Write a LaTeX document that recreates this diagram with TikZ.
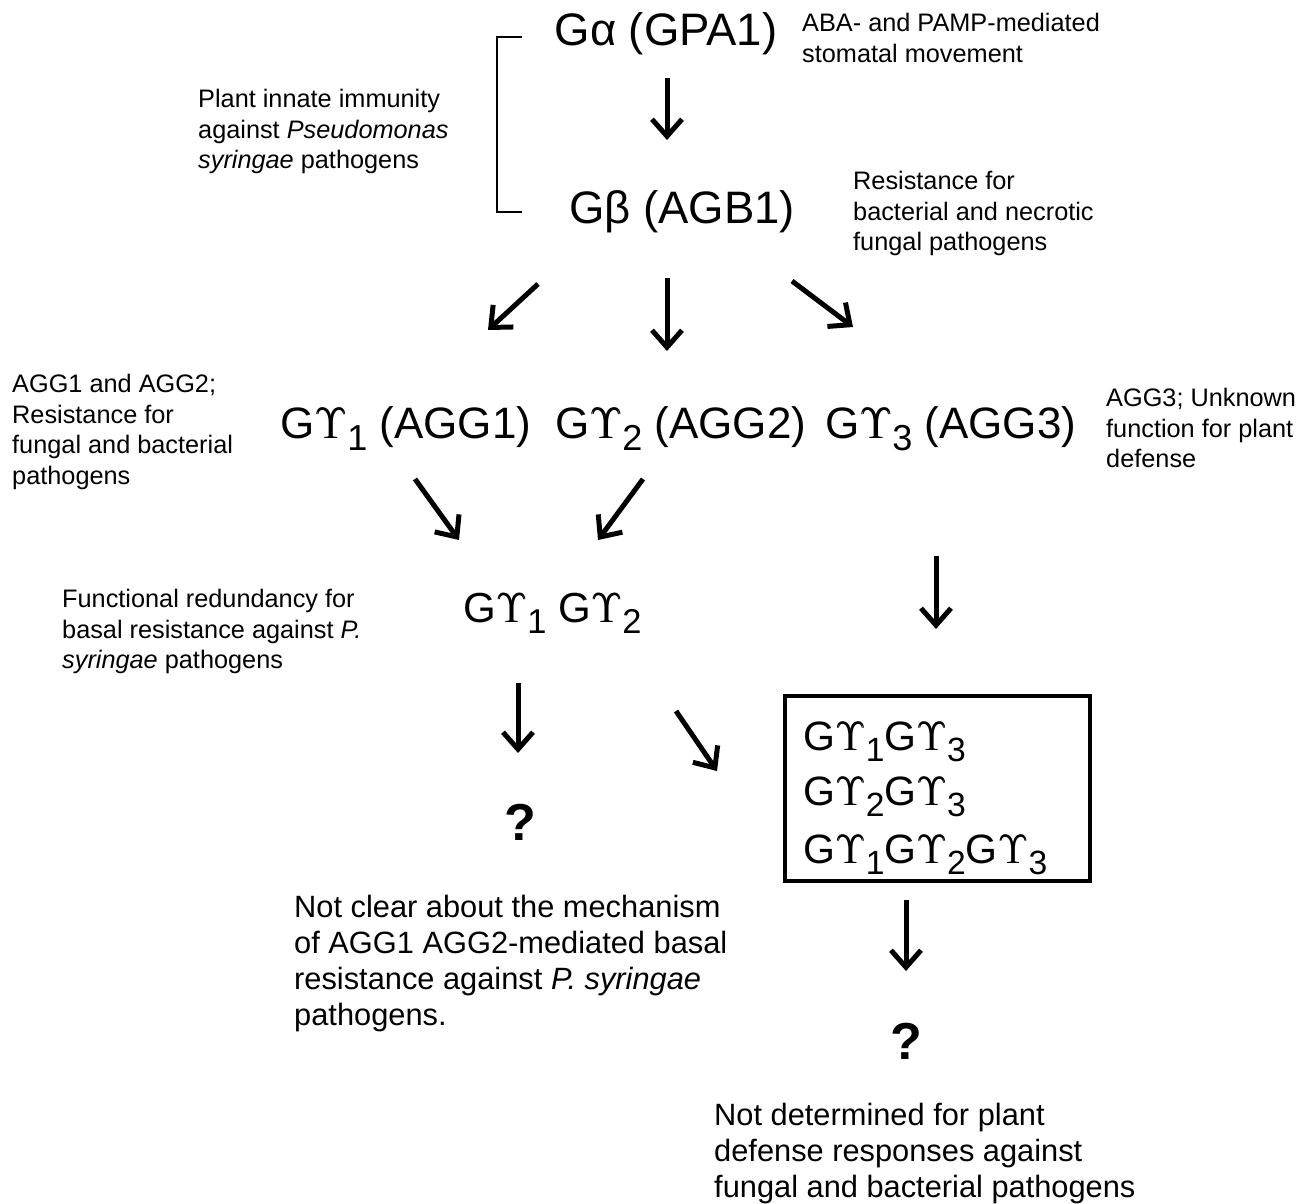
\documentclass[tikz,border=0pt]{standalone}
\usepackage{fix-cm}
\usepackage{graphicx}
\usepackage[no-math]{fontspec}
\setmainfont{Liberation Sans}
\usetikzlibrary{arrows.meta}
\newcommand{\ups}{\rlap{$\Upsilon$}\kern0.03em$\Upsilon$}
\newcommand{\gy}[1]{G\ups\raisebox{-0.28em}{\scalebox{0.82}{#1}}}
\tikzset{
  big/.style={font=\fontsize{44}{53}\selectfont, inner sep=0pt, anchor=base west},
  boxtxt/.style={font=\fontsize{41}{56}\selectfont, inner sep=0pt, anchor=base west},
  note/.style={font=\fontsize{25.3}{30.6}\selectfont, inner sep=0pt, align=left, anchor=north west},
  bignote/.style={font=\fontsize{30.8}{36}\selectfont, inner sep=0pt, align=left, anchor=north west},
  qmark/.style={font=\fontsize{52}{60}\selectfont\bfseries, inner sep=0pt},
  arr/.style={line width=5pt, -{Straight Barb[length=17pt,width=30pt,line width=5pt]}},
  frame/.style={draw, line width=4pt, minimum width=305pt, minimum height=185pt, inner sep=0pt}
}
\begin{document}
\begin{tikzpicture}[x=1pt,y=-1pt]
\useasboundingbox (0,0) rectangle (1310,1203);
% main labels
\node[big, anchor=base, font=\fontsize{45.5}{53}\selectfont] (ga) at (666,45) {Gα (GPA1)};
\node[big, anchor=base, font=\fontsize{45.5}{53}\selectfont] (gb) at (682,223) {Gβ (AGB1)};
\node[big] (g1) at (280,438) {\gy{1} (AGG1)};
\node[big] (g2) at (555,438) {\gy{2} (AGG2)};
\node[big] (g3) at (825,438) {\gy{3} (AGG3)};
\node[big, font=\fontsize{42}{50}\selectfont] (g12) at (463,622) {\gy{1} \gy{2}};
% box
\node[frame] (box) at (937.5,788.5) {};
\node[boxtxt] (b1) at (803,750) {\gy{1}\gy{3}};
\node[boxtxt] (b2) at (803,805) {\gy{2}\gy{3}};
\node[boxtxt] (b3) at (803,863) {\gy{1}\gy{2}\gy{3}};
% question marks
\node[qmark] (q1) at (520,822) {?};
\node[qmark] (q2) at (906,1041) {?};
% notes
\node[note] (n1) at (802,13) {ABA- and PAMP-mediated\\stomatal movement};
\node[note] (n2) at (198,89) {Plant innate immunity\\against \textit{Pseudomonas}\\\textit{syringae} pathogens};
\node[note] (n3) at (853,171) {Resistance for\\bacterial and necrotic\\fungal pathogens};
\node[note] (n4) at (12,374) {AGG1 and AGG2;\\Resistance for\\fungal and bacterial\\pathogens};
\node[note] (n5) at (1106,388) {AGG3; Unknown\\function for plant\\defense};
\node[note] (n6) at (62,589) {Functional redundancy for\\basal resistance against \textit{P.}\\\textit{syringae} pathogens};
\node[bignote] (n7) at (294,895) {Not clear about the mechanism\\of AGG1 AGG2-mediated basal\\resistance against \textit{P. syringae}\\pathogens.};
\node[bignote] (n8) at (714,1103) {Not determined for plant\\defense responses against\\fungal and bacterial pathogens};
% bracket
\coordinate (bt) at (522,37);
\coordinate (bb) at (522,212);
\draw[line width=2.2pt] (bt) -- (497,37) -- (497,212) -- (bb);
% arrow end points
\coordinate (a1s) at (667,78);  \coordinate (a1e) at (667,140);
\coordinate (a2s) at (538,284); \coordinate (a2e) at (488,330);
\coordinate (a3s) at (667,278); \coordinate (a3e) at (667,351);
\coordinate (a4s) at (792,281); \coordinate (a4e) at (853,327);
\coordinate (a5s) at (415,479); \coordinate (a5e) at (459,540);
\coordinate (a6s) at (643,479); \coordinate (a6e) at (598,540);
\coordinate (a7s) at (936,556); \coordinate (a7e) at (936,629);
\coordinate (a8s) at (518,683); \coordinate (a8e) at (518,753);
\coordinate (a9s) at (676,711); \coordinate (a9e) at (717,771);
\coordinate (a10s) at (906,900); \coordinate (a10e) at (906,971);
\draw[arr] (a1s) -- (a1e);
\draw[arr] (a2s) -- (a2e);
\draw[arr] (a3s) -- (a3e);
\draw[arr] (a4s) -- (a4e);
\draw[arr] (a5s) -- (a5e);
\draw[arr] (a6s) -- (a6e);
\draw[arr] (a7s) -- (a7e);
\draw[arr] (a8s) -- (a8e);
\draw[arr] (a9s) -- (a9e);
\draw[arr] (a10s) -- (a10e);
\end{tikzpicture}
\end{document}
